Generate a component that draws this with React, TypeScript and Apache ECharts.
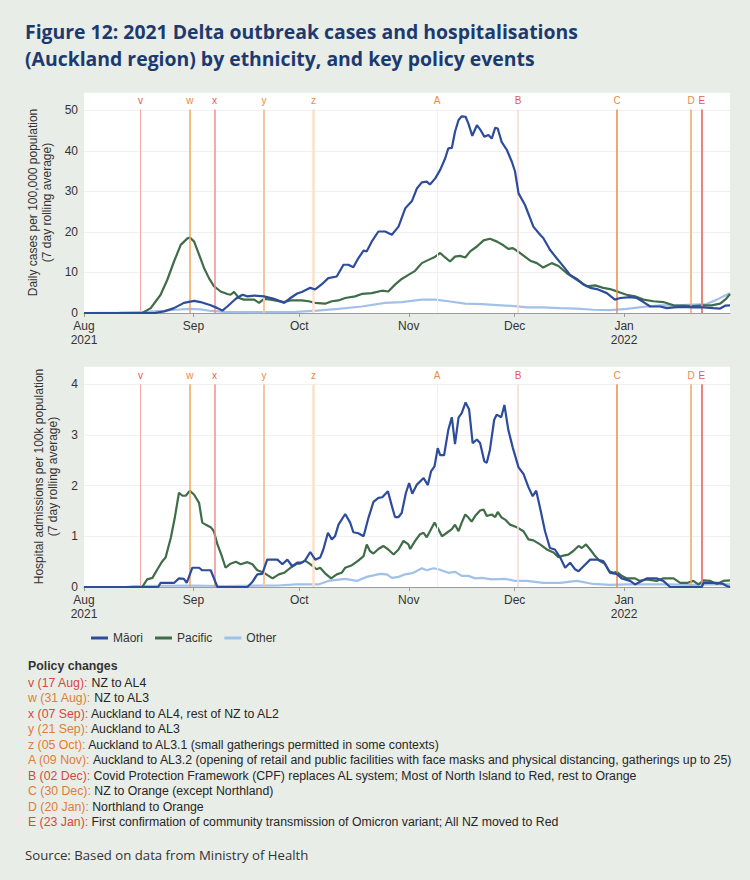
import React, { useEffect, useRef } from "react";
import * as echarts from "echarts";

// ---------- axis / tick data ----------
const monthTickDays = [0, 31, 61, 92, 122, 153]; // days after 1 Aug 2021
const monthTickLabels = ["Aug\n2021", "Sep", "Oct", "Nov", "Dec", "Jan\n2022"];
const seriesNames = ["Māori", "Pacific", "Other"];

// ---------- daily cases per 100,000 (7 day rolling average), [day, value] ----------
const maoriCases = [[0,0],[20,0],[22.7,0.4],[25.5,1.2],[28.3,2.5],[31.2,3.0],[33,2.7],[35.9,1.9],[37.8,1.2],[39.2,0.6],[40.6,1.6],[43,3.5],[44.9,4.5],[46.3,4.1],[48.2,4.3],[51,4.1],[53.8,3.5],[56.7,2.5],[58.5,3.7],[60.4,4.8],[61.7,5.2],[64.1,6.2],[65.5,5.8],[67.4,7.1],[69.2,8.6],[71.6,9.0],[73.5,11.9],[74.9,11.9],[76.3,11.3],[77.7,13.5],[79.2,15.4],[80.1,15.2],[81.5,17.6],[83.4,20.1],[85.3,20.1],[87.2,19.3],[89.1,21.3],[91,25.8],[92.9,27.6],[94.3,30.7],[95.7,32.2],[97.1,32.4],[98,31.7],[99.5,33.2],[100.9,35.3],[102.3,38.1],[103.2,40.6],[104.2,40.7],[105.1,44.7],[106.1,47.6],[107,48.5],[108.1,48.4],[108.9,46.7],[110,43.7],[111.3,46.3],[112.2,45.3],[113.4,43.5],[114.6,43.9],[115.5,43.0],[116.5,45.7],[117.2,45.5],[118.3,42.2],[119.8,40.2],[121.2,37.3],[122.1,34.9],[123.1,29.5],[124.9,26.7],[127.3,21.3],[129.2,19.3],[130.1,18.5],[132,15.6],[133.9,13.5],[135.8,11.5],[137.7,9.4],[139.6,8.4],[141.5,7.0],[143.4,6.2],[145.3,5.9],[148.1,4.9],[150.4,3.3],[151.9,3.7],[154.7,3.9],[156.6,3.7],[158.5,2.7],[160.4,1.6],[163.2,1.6],[165.1,1.2],[167,1.4],[169.8,1.5],[172.6,1.4],[175.5,1.4],[178.3,1.2],[180.2,1.1],[181.6,1.8],[183,1.9]];
const pacificCases = [[0,0],[16.5,0],[18.9,1.2],[21.7,4.5],[23.6,8.2],[25.5,12.7],[27.4,16.8],[29.3,18.4],[30,18.6],[31.2,17.6],[32.6,14.4],[34,11.1],[35.4,8.6],[36.8,6.6],[38.7,5.3],[40.6,4.7],[41.5,4.5],[42.5,5.2],[43.9,3.7],[45.3,3.3],[48.2,3.3],[49.6,2.5],[51,3.5],[52.9,3.3],[54.8,3.0],[56.7,2.7],[58.5,3.1],[61.7,3.1],[63.6,2.9],[65.5,2.5],[68.3,2.3],[70.2,2.9],[72.1,3.1],[74,3.7],[76.8,4.1],[78.7,4.7],[81.5,4.9],[84.4,5.5],[86.2,5.3],[88.1,7.0],[90,8.4],[91.9,9.4],[93.8,10.4],[95.7,12.3],[97.6,13.1],[99.5,13.9],[100.9,14.8],[102.3,13.7],[103.7,12.7],[105.1,13.9],[106.5,14.1],[108,13.7],[109.4,15.2],[111.3,16.4],[113.2,17.9],[115,18.3],[117,17.6],[118.8,16.7],[120.2,15.8],[121.5,16.0],[123.5,14.8],[126.4,12.9],[128.3,12.3],[130.1,11.2],[132.5,12.3],[134.4,11.6],[136.8,9.8],[139.6,8.2],[142.4,6.6],[144.8,6.8],[147.1,6.2],[149,5.9],[151.4,5.2],[153.7,4.5],[156.1,4.1],[158.5,3.3],[161.3,2.9],[164.1,2.7],[167,1.9],[169.8,1.8],[172.6,1.7],[175.5,1.9],[177.8,1.9],[180.2,2.3],[181.9,3.5],[183,4.7]];
const otherCases = [[0,0],[10,0.1],[18,0.3],[22,0.5],[26,0.8],[30,1.0],[33,0.9],[36,0.5],[40,0.3],[50,0.2],[60,0.3],[66,0.6],[72,1.0],[78.7,1.6],[85.3,2.5],[90,2.7],[95.7,3.3],[99.5,3.3],[103.2,2.9],[108,2.3],[112.7,2.2],[118.3,1.9],[122,1.7],[125.4,1.4],[130.1,1.4],[134.9,1.2],[139.6,1.1],[144.3,0.8],[149,0.7],[153.7,1.0],[158.5,1.5],[163.2,1.9],[167.9,1.9],[172.6,2.1],[176.4,2.2],[179.3,3.3],[181.6,4.3],[183,4.9]];

// ---------- hospital admissions per 100k (7 day rolling average), [day, value] ----------
const maoriHosp = [[0,0],[21,0],[21.7,0.08],[25.5,0.08],[26.9,0.17],[28.3,0.16],[29.1,0.08],[30.7,0.38],[32.6,0.38],[33.5,0.33],[35.9,0.33],[37.8,0],[46.3,0],[47.7,0.1],[49.1,0.25],[50.5,0.26],[51.9,0.54],[54.8,0.54],[56.2,0.45],[57.6,0.54],[59,0.41],[60.4,0.48],[61.7,0.48],[62.6,0.52],[64.1,0.69],[65.5,0.54],[66.9,0.58],[67.8,0.74],[69.1,1.07],[70.2,0.94],[71.1,1.0],[72.1,1.23],[74,1.44],[75.4,1.27],[76.3,1.08],[77.7,1.06],[79.2,1.0],[80.6,1.37],[82,1.68],[83.4,1.76],[84.5,1.77],[86.1,1.89],[87.2,1.6],[88.1,1.38],[89.1,1.38],[90,1.46],[91.2,1.86],[92.1,2.05],[93,1.84],[94.3,2.02],[96.2,2.15],[97.4,2.01],[98.3,2.28],[99.3,2.38],[100.2,2.74],[100.9,2.6],[102,2.6],[103.2,3.1],[104.2,3.35],[105.1,2.82],[106.1,3.34],[107,3.43],[108.1,3.64],[109.1,3.5],[110.1,2.84],[111.3,2.91],[112.2,2.84],[113.4,2.48],[114.1,2.45],[115,2.71],[116.2,3.3],[116.9,3.4],[118.2,3.35],[119.1,3.59],[120.2,3.1],[121.5,2.74],[123.1,2.36],[124.5,2.23],[125.9,1.97],[127.1,1.79],[128.1,1.9],[129.2,1.56],[130.6,1.1],[132,0.77],[133.4,0.74],[134.9,0.58],[136.3,0.38],[137.7,0.48],[139.1,0.35],[140.1,0.31],[141.5,0.41],[143.4,0.54],[145.3,0.54],[147.1,0.51],[149,0.28],[150.9,0.26],[152.3,0.17],[154.7,0.12],[156.1,0.05],[158,0.12],[159.4,0.17],[162.2,0.17],[164.1,0.12],[166,0],[175,0],[175.5,0.08],[179.3,0.08],[181.1,0.06],[182.1,0.02],[183,0]];
const pacificHosp = [[0,0],[16.5,0],[17.9,0.15],[19.4,0.18],[20.8,0.35],[22.2,0.51],[23.1,0.58],[24.6,0.97],[25.7,1.36],[26.9,1.86],[27.9,1.8],[28.8,1.8],[30,1.9],[31.2,1.82],[32.6,1.66],[33.5,1.27],[34.5,1.23],[35.9,1.18],[36.8,1.1],[37.8,0.84],[38.9,0.64],[40.1,0.38],[41.5,0.46],[43,0.5],[44.4,0.45],[46.3,0.49],[47.7,0.45],[49.1,0.33],[51,0.28],[53.4,0.17],[55.2,0.25],[56.7,0.28],[58.5,0.38],[60.4,0.46],[61.2,0.46],[62.6,0.52],[64.1,0.45],[65.9,0.35],[66.9,0.38],[68.3,0.27],[70,0.17],[71.6,0.25],[73,0.28],[74,0.38],[75.9,0.43],[77.7,0.52],[79.2,0.61],[80.1,0.84],[81,0.71],[82,0.66],[83.4,0.75],[84.8,0.81],[86.2,0.74],[87.7,0.64],[89.1,0.74],[90.5,0.91],[91.9,0.84],[92.4,0.75],[93.8,0.91],[95.2,1.04],[96.2,1.07],[97.1,0.98],[98,1.1],[99.3,1.27],[100.4,1.14],[101.4,1.0],[102.8,1.07],[104.2,1.14],[105.1,1.23],[106.1,1.1],[107,1.27],[108,1.43],[108.9,1.37],[109.8,1.29],[110.8,1.4],[112.2,1.51],[113.2,1.53],[114.1,1.4],[115.5,1.43],[116.5,1.38],[117.2,1.48],[118.3,1.37],[119.3,1.33],[120.7,1.23],[122.6,1.18],[124.5,1.1],[125.9,0.94],[127.3,0.92],[129.2,0.84],[131.1,0.74],[133,0.68],[134.4,0.59],[135.8,0.62],[137.2,0.64],[138.6,0.71],[140.1,0.81],[141,0.77],[142.2,0.84],[143.4,0.74],[144.8,0.61],[146.2,0.51],[147.6,0.46],[148.8,0.31],[150,0.28],[150.9,0.3],[152.3,0.22],[153.8,0.17],[156.1,0.17],[157.5,0.12],[159.4,0.15],[162.2,0.12],[164.1,0.17],[167,0.17],[168.9,0.08],[170.8,0.08],[172.6,0.12],[174.1,0.05],[175.5,0.13],[177.4,0.12],[179.3,0.06],[181.1,0.12],[183,0.13]];
const otherHosp = [[0,0],[12,0],[14,0.02],[30,0.03],[40,0.02],[55,0.03],[60,0.05],[66.4,0.05],[69.2,0.12],[74,0.16],[77.3,0.12],[80.1,0.2],[83.9,0.26],[85.8,0.25],[87.2,0.18],[89.1,0.2],[91,0.25],[93.3,0.28],[95.7,0.37],[97.1,0.33],[99,0.37],[100.4,0.35],[103.2,0.28],[105.1,0.3],[107,0.22],[108.9,0.22],[110.8,0.17],[112.7,0.18],[115.5,0.15],[119.3,0.16],[122.1,0.12],[125.4,0.12],[130.1,0.08],[134.9,0.08],[139.6,0.12],[144.3,0.06],[149,0.04],[154,0.05],[165,0.05],[172,0.04],[177,0.05],[183,0.05]];

// ---------- policy events ----------
const eventLetters = ["v", "w", "x", "y", "z", "A", "B", "C", "D", "E"];
const eventDays = [16, 30, 37, 51, 65, 100, 123, 151, 172, 175];
const eventDates = ["17 Aug", "31 Aug", "07 Sep", "21 Sep", "05 Oct", "09 Nov", "02 Dec", "30 Dec", "20 Jan", "23 Jan"];
const eventKinds = ["r", "o", "r", "o", "o", "o", "r", "o", "o", "r"];
const eventTexts = [
  "NZ to AL4",
  "NZ to AL3",
  "Auckland to AL4, rest of NZ to AL2",
  "Auckland to AL3",
  "Auckland to AL3.1 (small gatherings permitted in some contexts)",
  "Auckland to AL3.2 (opening of retail and public facilities with face masks and physical distancing, gatherings up to 25)",
  "Covid Protection Framework (CPF) replaces AL system; Most of North Island to Red, rest to Orange",
  "NZ to Orange (except Northland)",
  "Northland to Orange",
  "First confirmation of community transmission of Omicron variant; All NZ moved to Red",
];

// ---------- styles ----------
const COLORS = { maori: "#2e4c9c", pacific: "#3e6d48", other: "#a2c1e8" };
const eventLineColors = ["#f3a7a7", "#f0a45c", "#ef8f8f", "#f6c6a2", "#fbe0cd", "#f2eeea", "#f9d9d9", "#ea8b4f", "#f0a666", "#e98282"];
const eventLineWidths = [1, 1.5, 1.5, 2, 2.5, 1, 1.5, 1.5, 1.5, 2];
const kindColor = { r: "#d9463f", o: "#df7d36" };
const labelColor = { r: "#e05a52", o: "#e88a48" };
const AXIS_FONT = "'Liberation Sans', Arial, sans-serif";
const BG = "#e9ede7";
const POLICY_FS = 12.3;

function xAxis(gridIndex: number) {
  return {
    type: "value",
    gridIndex,
    min: 0,
    max: 183,
    axisLine: { show: true, lineStyle: { color: "#9c9c9c", width: 1 } },
    axisTick: { show: true, customValues: monthTickDays, length: 4, lineStyle: { color: "#9c9c9c" } },
    axisLabel: {
      customValues: monthTickDays,
      formatter: (v: number) => {
        const i = monthTickDays.indexOf(Math.round(v));
        return i >= 0 ? monthTickLabels[i] : "";
      },
      color: "#333",
      fontSize: 12,
      lineHeight: 14,
      fontFamily: AXIS_FONT,
      margin: 6,
    },
    splitLine: { show: false },
  };
}

function yAxis(gridIndex: number, max: number, interval: number, name: string) {
  return {
    type: "value",
    gridIndex,
    min: 0,
    max,
    interval,
    name,
    nameLocation: "middle",
    nameRotate: 90,
    nameGap: 24,
    nameTextStyle: { color: "#333", fontSize: 12, lineHeight: 14, fontFamily: AXIS_FONT, align: "center" },
    axisLine: { show: false },
    axisTick: { show: false },
    axisLabel: {
      color: "#333",
      fontSize: 12,
      fontFamily: AXIS_FONT,
      margin: 6,
      formatter: (v: number) => (Math.abs(v / interval - Math.round(v / interval)) < 1e-6 ? String(v) : ""),
    },
    splitLine: { show: true, lineStyle: { color: "#eff1f1", width: 1 } },
  };
}

function eventMarkLine(top: number) {
  return {
    silent: true,
    symbol: ["none", "none"],
    animation: false,
    data: eventDays.map((d, i) => {
      const style = { color: eventLineColors[i], width: eventLineWidths[i], type: "solid" };
      const label = {
        show: true,
        position: "end",
        formatter: eventLetters[i],
        color: labelColor[eventKinds[i] as "r" | "o"],
        fontSize: 10,
        fontFamily: AXIS_FONT,
        distance: 4,
      };
      return [
        { coord: [d, 0], lineStyle: style, label },
        { coord: [d, top], lineStyle: style, label },
      ];
    }),
  };
}

function lines(gridIndex: number, data: number[][][], top: number) {
  const cols = [COLORS.maori, COLORS.pacific, COLORS.other];
  const out: any[] = [
    {
      type: "line",
      name: "_events" + gridIndex,
      xAxisIndex: gridIndex,
      yAxisIndex: gridIndex,
      data: [],
      z: 1,
      markLine: eventMarkLine(top),
    },
  ];
  const order = [2, 1, 0];
  order.forEach((k) => {
    out.push({
      type: "line",
      name: seriesNames[k],
      xAxisIndex: gridIndex,
      yAxisIndex: gridIndex,
      data: data[k],
      showSymbol: false,
      symbol: "none",
      z: 3 + (k === 2 ? 0 : 2 - k),
      lineStyle: { color: cols[k], width: 2.2 },
      itemStyle: { color: cols[k] },
    });
  });
  return out;
}

export default function App() {
  const ref = useRef<HTMLDivElement>(null);

  useEffect(() => {
    document.body.style.margin = "0";
    document.body.style.background = BG;
    if (!ref.current) return;
    const chart = echarts.init(ref.current, undefined, { renderer: "svg" });

    const policyGraphics: any[] = [
      {
        type: "text",
        x: 28,
        y: 666,
        style: {
          text: "Policy changes",
          fill: "#333",
          font: `bold ${POLICY_FS}px ${AXIS_FONT}`,
          verticalAlign: "middle",
          textVerticalAlign: "middle",
        },
      },
    ];
    eventLetters.forEach((l, i) => {
      const k = eventKinds[i];
      policyGraphics.push({
        type: "text",
        x: 28,
        y: 683 + i * 15.45,
        style: {
          text: `{${k}|${l} (${eventDates[i]}):} ${eventTexts[i]}`,
          fill: "#262626",
          font: `${POLICY_FS}px ${AXIS_FONT}`,
          verticalAlign: "middle",
          textVerticalAlign: "middle",
          rich: {
            r: { fill: kindColor.r, fontSize: POLICY_FS, fontFamily: AXIS_FONT },
            o: { fill: kindColor.o, fontSize: POLICY_FS, fontFamily: AXIS_FONT },
          },
        },
      });
    });
    policyGraphics.push({
      type: "text",
      x: 25,
      y: 855,
      style: {
        text: "Source: Based on data from Ministry of Health",
        fill: "#333",
        font: "13.2px 'Open Sans', sans-serif",
        verticalAlign: "middle",
        textVerticalAlign: "middle",
      },
    });

    chart.setOption({
      animation: false,
      backgroundColor: BG,
      title: {
        text: "Figure 12: 2021 Delta outbreak cases and hospitalisations\n(Auckland region) by ethnicity, and key policy events",
        left: 25,
        top: 18,
        padding: 0,
        textStyle: {
          fontFamily: "'Open Sans', sans-serif",
          fontWeight: "bold",
          fontSize: 19.4,
          color: "#1d3a6e",
          lineHeight: 27,
        },
      },
      legend: {
        data: seriesNames,
        left: 86,
        top: 627,
        icon: "rect",
        itemWidth: 17,
        itemHeight: 3,
        itemGap: 12,
        textStyle: { fontSize: 12, color: "#333", fontFamily: AXIS_FONT },
      },
      grid: [
        { left: 84, right: 20, top: 92, height: 221, show: true, backgroundColor: "#fff", borderWidth: 0 },
        { left: 84, right: 20, top: 366, height: 221, show: true, backgroundColor: "#fff", borderWidth: 0 },
      ],
      xAxis: [xAxis(0), xAxis(1)],
      yAxis: [
        yAxis(0, 54.5, 10, "Daily cases per 100,000 population\n(7 day rolling average)"),
        yAxis(1, 4.36, 1, "Hospital admissions per 100k population\n(7 day rolling average)"),
      ],
      series: [
        ...lines(0, [maoriCases, pacificCases, otherCases], 50.2),
        ...lines(1, [maoriHosp, pacificHosp, otherHosp], 4.0),
      ],
      graphic: policyGraphics,
    });

    return () => chart.dispose();
  }, []);

  return <div ref={ref} style={{ width: 750, height: 880 }} />;
}
